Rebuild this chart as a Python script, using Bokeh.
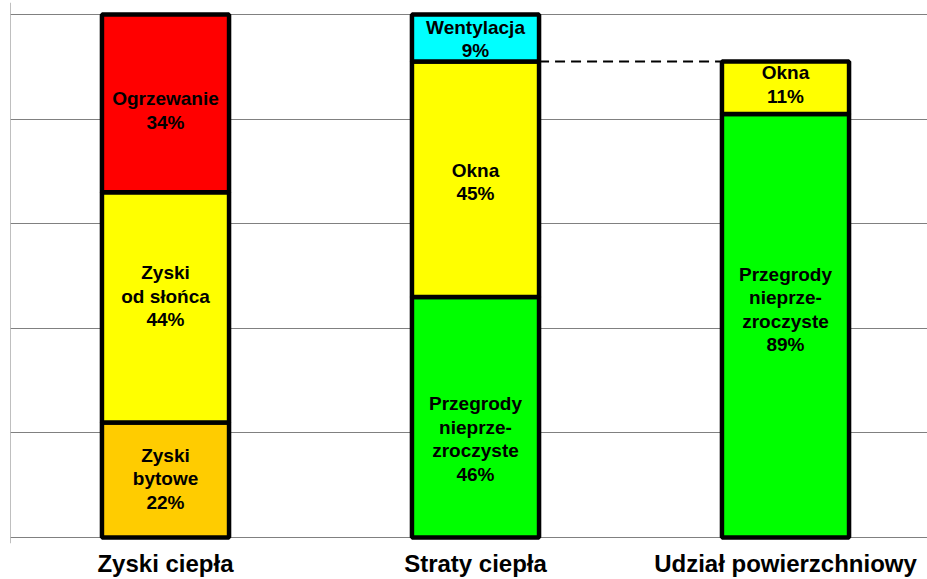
from bokeh.plotting import figure
from bokeh.models import Range1d, FixedTicker, Span, ColumnDataSource
from bokeh.core.properties import value
from bokeh.embed import file_html
from bokeh.resources import INLINE

# ---- data ----
categories = ["Zyski ciepła", "Straty ciepła", "Udział powierzchniowy"]

zyski_parts = ["Zyski\nbytowe", "Zyski\nod słońca", "Ogrzewanie"]
zyski_values = [22, 44, 34]

straty_parts = ["Przegrody\nnieprze-\nzroczyste", "Okna", "Wentylacja"]
straty_values = [46, 45, 9]

udzial_parts = ["Przegrody\nnieprze-\nzroczyste", "Okna"]
udzial_values = [89, 11]

# ---- styles ----
zyski_colors = ["#FFCC00", "#FFFF00", "#FF0000"]
straty_colors = ["#00FF00", "#FFFF00", "#00FFFF"]
udzial_colors = ["#00FF00", "#FFFF00"]
zyski_offsets = [-1, -11, 7]
straty_offsets = [22, 3, 1]
udzial_offsets = [-16, -3]

FONT = "Liberation Sans"
BAR_W = 0.41

# Udział bar is drawn on the scale of envelope losses (Przegrody + Okna)
udzial_scale = (straty_values[0] + straty_values[1]) / 100.0

left, right, bottom, top, colors, texts, tx, ty, toff = [], [], [], [], [], [], [], [], []


def add_stack(xc, parts, vals, cols, offs, scale=1.0):
    base = 0.0
    for part, v, c, o in zip(parts, vals, cols, offs):
        h = v * scale
        left.append(xc - BAR_W / 2)
        right.append(xc + BAR_W / 2)
        bottom.append(base)
        top.append(base + h)
        colors.append(c)
        texts.append(f"{part}\n{v}%")
        tx.append(xc)
        ty.append(base + h / 2)
        toff.append(o)
        base += h
    return base


add_stack(0.5, zyski_parts, zyski_values, zyski_colors, zyski_offsets)
add_stack(1.5, straty_parts, straty_values, straty_colors, straty_offsets)
add_stack(2.5, udzial_parts, udzial_values, udzial_colors, udzial_offsets, udzial_scale)

src = ColumnDataSource(dict(left=left, right=right, bottom=bottom, top=top, color=colors))
tsrc = ColumnDataSource(dict(x=tx, y=ty, text=texts, off=toff))

# pixel geometry: y=0 at 538px, y=100 at 14px  -> 5.24 px / unit
ppu = 5.24
y_end = 100 + 12 / ppu
y_start = -6 / ppu

p = figure(width=927, height=579, output_backend="svg", toolbar_location=None,
           x_range=Range1d(0, 917 / 310), y_range=Range1d(y_start, y_end),
           min_border_left=10, min_border_right=0, min_border_top=2, min_border_bottom=35)
p.outline_line_color = None
p.background_fill_color = "white"
p.border_fill_color = "white"

p.yaxis.visible = False
p.xgrid.visible = False
p.ygrid.ticker = FixedTicker(ticks=[0, 20, 40, 60, 80, 100])
p.ygrid.grid_line_color = "#808080"
p.ygrid.grid_line_width = 1

p.xaxis.ticker = FixedTicker(ticks=[0.5, 1.5, 2.5])
p.xaxis.major_label_overrides = {0.5: categories[0], 1.5: categories[1], 2.5: categories[2]}
p.xaxis.axis_line_color = None
p.xaxis.major_tick_line_color = None
p.xaxis.minor_tick_line_color = None
p.xaxis.major_tick_out = 0
p.xaxis.major_tick_in = 0
p.xaxis.minor_tick_out = 0
p.xaxis.minor_tick_in = 0
p.xaxis.major_label_text_font = FONT
p.xaxis.major_label_text_font_style = "bold"
p.xaxis.major_label_text_font_size = "24px"
p.xaxis.major_label_text_color = "black"
p.xaxis.major_label_standoff = 6

p.add_layout(Span(location=0, dimension="height", line_color="#808080", line_width=1))

p.quad(left="left", right="right", bottom="bottom", top="top", source=src,
       fill_color="color", line_color="black", line_width=4.5)

# dashed connector from top of Okna (Straty) to top of Udział bar
conn_y = straty_values[0] + straty_values[1]
p.segment(x0=[1.5 + BAR_W / 2], y0=[conn_y], x1=[2.5 - BAR_W / 2], y1=[conn_y],
          line_color="black", line_width=2, line_dash="10 6")

p.text(x="x", y="y", text="text", source=tsrc, y_offset="off",
       text_align="center", text_baseline="middle",
       text_font=value(FONT), text_font_style="bold", text_font_size="19px",
       text_line_height=1.12, text_color="black")

open("out.html", "w").write(file_html(p, INLINE))
